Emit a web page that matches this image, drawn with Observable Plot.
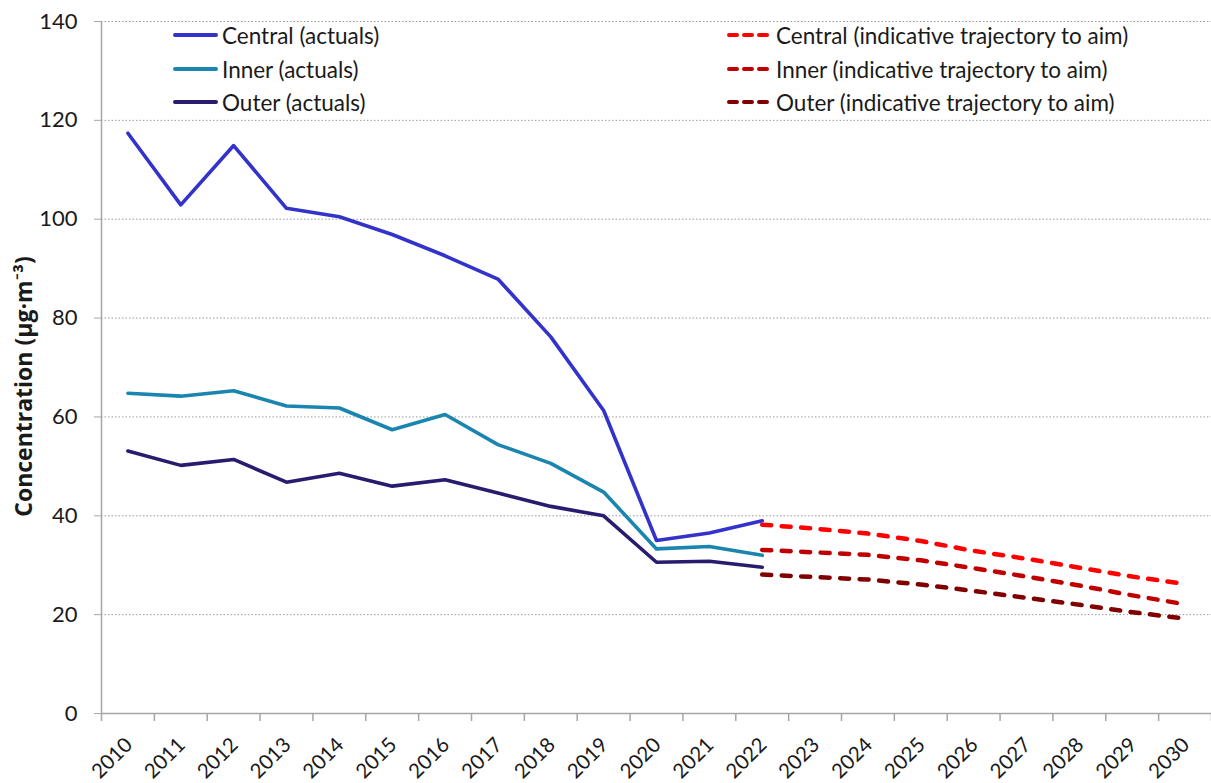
<!DOCTYPE html>
<html>
<head>
<meta charset="utf-8">
<script src="https://cdn.jsdelivr.net/npm/d3@7"></script>
<script src="https://cdn.jsdelivr.net/npm/@observablehq/plot@0.6"></script>
<style>
  html, body { margin: 0; padding: 0; background: #fff; }
  #wrap { position: relative; width: 1211px; height: 783px; font-family: Lato, "Noto Sans", sans-serif; }
  .leg { position: absolute; display: flex; align-items: center; font-size: 22.5px; color: #1a1a1a; white-space: nowrap; }
  .leg svg { margin-right: 3px; }
</style>
</head>
<body>
<div id="wrap"></div>
<script>
const years = d3.range(2010, 2031);
const actualYears = d3.range(2010, 2023);
const trajYears = d3.range(2022, 2031);

const centralActual = [117.4, 102.9, 114.9, 102.2, 100.5, 96.9, 92.6, 87.9, 76.2, 61.3, 35.0, 36.5, 39.0];
const innerActual   = [64.8, 64.2, 65.3, 62.2, 61.8, 57.4, 60.5, 54.4, 50.6, 44.8, 33.3, 33.8, 32.0];
const outerActual   = [53.1, 50.2, 51.4, 46.8, 48.6, 46.0, 47.3, 44.6, 41.9, 40.0, 30.6, 30.8, 29.6];

const centralTraj = [38.2, 37.4, 36.4, 34.9, 32.9, 31.3, 29.5, 27.7, 26.2];
const innerTraj   = [33.1, 32.6, 32.1, 31.0, 29.4, 27.7, 25.9, 23.9, 22.1];
const outerTraj   = [28.1, 27.6, 27.1, 26.1, 24.8, 23.4, 22.0, 20.5, 19.2];

const yTicks = d3.range(0, 141, 20);
const xBoundaries = d3.range(2009.5, 2031, 1);

const seriesNames = ["Central (actuals)", "Inner (actuals)", "Outer (actuals)",
  "Central (indicative trajectory to aim)", "Inner (indicative trajectory to aim)", "Outer (indicative trajectory to aim)"];
const seriesColors = ["#3333cc", "#1a86b0", "#2b1b6e", "#ff0000", "#c00000", "#800000"];

const toRows = (xs, vs) => xs.map((x, i) => ({year: x, value: vs[i]}));
const actualSets = [centralActual, innerActual, outerActual].map(v => toRows(actualYears, v));
const trajSets = [centralTraj, innerTraj, outerTraj].map(v => toRows(trajYears, v));

const font = "Lato, 'Noto Sans', sans-serif";

const chart = Plot.plot({
  width: 1211,
  height: 783,
  marginLeft: 101,
  marginRight: 0,
  marginTop: 21,
  marginBottom: 70,
  style: {fontFamily: font, background: "#fff", color: "#1a1a1a"},
  x: {type: "linear", domain: [2009.5, 2030.5], axis: null},
  y: {domain: [0, 140], axis: null},
  marks: [
    Plot.ruleY(yTicks.filter(d => d > 0), {stroke: "#9a9a9a", strokeWidth: 1, strokeDasharray: "1.5,2"}),
    Plot.ruleY([0], {stroke: "#a6a6a6", strokeWidth: 1.5}),
    Plot.ruleX([2009.5], {stroke: "#a6a6a6", strokeWidth: 1.5}),
    Plot.axisY({ticks: yTicks, tickSize: 7, tickPadding: 17, fontSize: 22, stroke: "#a6a6a6", tickFormat: d => String(d), color: "#1a1a1a", label: null}),
    Plot.axisX({ticks: xBoundaries, tickSize: 8, tickFormat: () => "", stroke: "#a6a6a6", strokeWidth: 1.5, label: null}),
    Plot.text(years, {x: d => d, frameAnchor: "bottom", text: d => String(d), rotate: -45, textAnchor: "end", lineAnchor: "middle", dx: 1, dy: 28, fontSize: 20.5, fill: "#1a1a1a"}),
    Plot.text(["Concentration (µg·m⁻³)"], {frameAnchor: "left", rotate: -90, textAnchor: "middle", dx: -77, dy: 19, fontSize: 23, fontWeight: "bold", fontFamily: "'Open Sans', Lato, sans-serif", fill: "#1a1a1a"}),
    ...trajSets.map((rows, i) => Plot.line(rows, {x: "year", y: "value", stroke: seriesColors[i + 3], strokeWidth: 4.5, strokeDasharray: "9,10.5", strokeLinecap: "round"})),
    ...actualSets.slice().reverse().map((rows, j) => {
      const i = 2 - j;
      return Plot.line(rows, {x: "year", y: "value", stroke: seriesColors[i], strokeWidth: 3.6});
    })
  ]
});

const wrap = document.getElementById("wrap");
wrap.appendChild(chart);

const legendPos = [
  {left: 173, top: 35}, {left: 173, top: 69}, {left: 173, top: 102},
  {left: 727, top: 35}, {left: 727, top: 69}, {left: 727, top: 102}
];
seriesNames.forEach((name, i) => {
  const el = document.createElement("div");
  el.className = "leg";
  el.style.left = legendPos[i].left + "px";
  el.style.top = (legendPos[i].top - 15) + "px";
  el.style.height = "30px";
  const dashed = i >= 3;
  el.innerHTML = `<svg width="46" height="10"><line x1="2" y1="5" x2="43" y2="5" stroke="${seriesColors[i]}" stroke-width="4" stroke-linecap="round" ${dashed ? 'stroke-dasharray="8,7"' : ''}/></svg><span>${name}</span>`;
  wrap.appendChild(el);
});
</script>
</body>
</html>
